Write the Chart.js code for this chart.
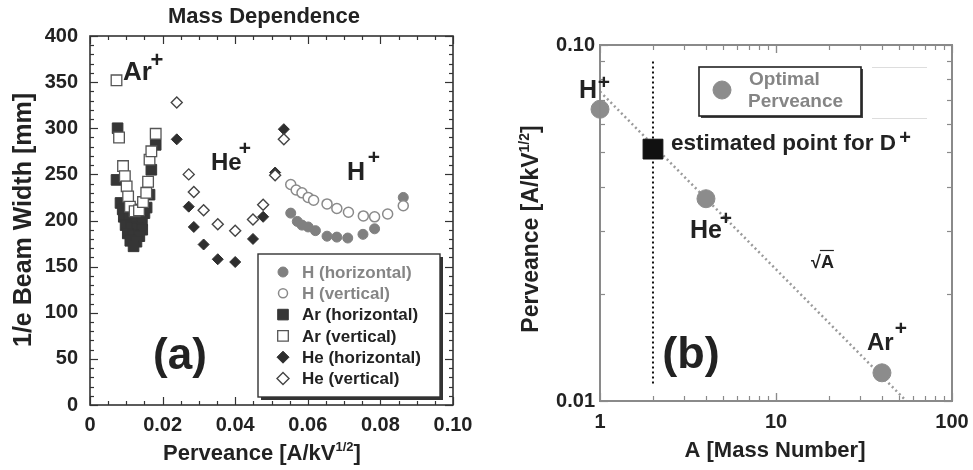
<!DOCTYPE html>
<html>
<head>
<meta charset="utf-8">
<script src="https://cdn.jsdelivr.net/npm/chart.js@4.4.1/dist/chart.umd.min.js"></script>
<style>
  html, body { margin: 0; padding: 0; background: #fff; }
  #wrap { position: relative; width: 973px; height: 470px; }
  #wrap canvas { position: absolute; left: 0; top: 0; }
</style>
</head>
<body>
<div id="wrap">
  <canvas id="beam" width="973" height="470"></canvas>
  <canvas id="perv" width="973" height="470"></canvas>
</div>
<script>
// ---- Panel (a): 1/e beam width [mm] against perveance [A/kV^1/2] ----
const hHorizX = [0.0553, 0.0571, 0.0584, 0.0601, 0.0621, 0.0653, 0.0680, 0.0710, 0.0752, 0.0784, 0.0863];
const hHorizY = [208, 199, 195, 193, 189, 183, 182, 181, 185, 191, 225];

const hVertX = [0.0553, 0.0568, 0.0584, 0.0601, 0.0616, 0.0653, 0.0680, 0.0712, 0.0753, 0.0784, 0.0820, 0.0863];
const hVertY = [239, 233, 230, 225, 222, 218, 213, 209, 205, 204, 207, 216];

const arHorizX = [0.0076, 0.0073, 0.0084, 0.0090, 0.0103, 0.0119, 0.0136, 0.0150, 0.0093, 0.0109, 0.0127, 0.0143,
                  0.0098, 0.0114, 0.0131, 0.0144, 0.0104, 0.0120, 0.0136, 0.0111, 0.0128, 0.0120,
                  0.0156, 0.0164, 0.0169, 0.0181];
const arHorizY = [300, 244, 219, 212, 214, 209, 212, 208, 204, 202, 201, 200,
                  195, 193, 192, 190, 186, 184, 183, 178, 177, 172,
                  214, 228, 255, 282];

const arVertX = [0.0073, 0.0080, 0.0091, 0.0096, 0.0101, 0.0105, 0.0110, 0.0123, 0.0135, 0.0146, 0.0155, 0.0160, 0.0164, 0.0169, 0.0181];
const arVertY = [352, 290, 259, 248, 237, 226, 215, 210, 211, 220, 230, 242, 266, 275, 294];

const heHorizX = [0.0239, 0.0272, 0.0286, 0.0313, 0.0352, 0.0400, 0.0449, 0.0477, 0.0510, 0.0534];
const heHorizY = [288, 215, 193, 174, 158, 155, 180, 204, 252, 299];

const heVertX = [0.0239, 0.0272, 0.0286, 0.0313, 0.0352, 0.0400, 0.0449, 0.0477, 0.0510, 0.0534];
const heVertY = [328, 250, 231, 211, 196, 189, 201, 217, 249, 288];

const beamTicks = [0, 50, 100, 150, 200, 250, 300, 350, 400];
const beamTickLabels = ['0', '50', '100', '150', '200', '250', '300', '350', '400'];
const pervTicks = [0, 0.02, 0.04, 0.06, 0.08, 0.10];
const pervTickLabels = ['0', '0.02', '0.04', '0.06', '0.08', '0.10'];

// ---- Panel (b): optimal perveance against mass number ----
const massNumbers = [1, 4, 40];
const optimalPerveance = [0.066, 0.037, 0.012];
const deuteronMass = [2];
const deuteronPerveance = [0.051];
const sqrtLawMass = [1, 55];
const sqrtLawPerveance = [0.074, 0.01];
const markerLineMass = [2, 2];
const markerLinePerveance = [0.0112, 0.091];

const massTicks = [1, 10, 100];
const massTickLabels = ['1', '10', '100'];
const optTicks = [0.01, 0.1];
const optTickLabels = ['0.01', '0.10'];

const FAMILY = '"Liberation Sans", Arial, Helvetica, sans-serif';
const INK = '#222';
const GREY = '#858585';

function pts(xs, ys) { return xs.map((x, i) => ({ x, y: ys[i] })); }
function fnt(size) { return 'bold ' + size + 'px ' + FAMILY; }

function line(ctx, x1, y1, x2, y2) {
  ctx.beginPath(); ctx.moveTo(x1, y1); ctx.lineTo(x2, y2); ctx.stroke();
}

// Text made of runs; a run may be raised (superscript) by "rise" pixels.
function rich(ctx, runs, x, y, opt = {}) {
  ctx.save();
  ctx.translate(x, y);
  if (opt.rot) ctx.rotate(opt.rot);
  let w = 0;
  runs.forEach(r => { ctx.font = fnt(r.size); r.w = ctx.measureText(r.t).width; w += r.w + (r.dx || 0); });
  let cx = opt.align === 'center' ? -w / 2 : opt.align === 'right' ? -w : 0;
  ctx.textAlign = 'left';
  ctx.textBaseline = 'alphabetic';
  runs.forEach(r => {
    cx += r.dx || 0;
    ctx.font = fnt(r.size);
    ctx.fillStyle = r.color || opt.color || INK;
    ctx.fillText(r.t, cx, -(r.rise || 0));
    cx += r.w;
  });
  ctx.restore();
}

function label(ctx, t, x, y, size, align, baseline, color) {
  ctx.save();
  ctx.font = fnt(size);
  ctx.fillStyle = color || INK;
  ctx.textAlign = align || 'left';
  ctx.textBaseline = baseline || 'alphabetic';
  ctx.fillText(t, x, y);
  ctx.restore();
}

// Ion label such as "Ar" with a bold "+" placed at a given centre.
function ion(ctx, name, x, baseline, size, plusX, plusY, plusSize) {
  label(ctx, name, x, baseline, size);
  label(ctx, '+', plusX, plusY + 0.33 * plusSize, plusSize, 'center');
}

function marker(ctx, style, x, y, r, fill, stroke, lw) {
  ctx.save();
  ctx.beginPath();
  if (style === 'circle') ctx.arc(x, y, r, 0, Math.PI * 2);
  else if (style === 'rect') { const s = r * Math.SQRT1_2; ctx.rect(x - s, y - s, 2 * s, 2 * s); }
  else { ctx.moveTo(x - r, y); ctx.lineTo(x, y - r); ctx.lineTo(x + r, y); ctx.lineTo(x, y + r); ctx.closePath(); }
  ctx.fillStyle = fill; ctx.fill();
  ctx.lineWidth = lw; ctx.strokeStyle = stroke; ctx.stroke();
  ctx.restore();
}

// Frame with inward ticks on all four sides.
function frame(ctx, area, xs, ys, xTicks, yTicks, color, lw) {
  ctx.save();
  ctx.strokeStyle = color;
  ctx.lineWidth = lw;
  ctx.strokeRect(area.left, area.top, area.right - area.left, area.bottom - area.top);
  ctx.lineWidth = 1.2;
  xTicks.forEach(([v, len]) => {
    const p = Math.round(xs.getPixelForValue(v)) + 0.5;
    line(ctx, p, area.bottom, p, area.bottom - len);
    line(ctx, p, area.top, p, area.top + len);
  });
  yTicks.forEach(([v, len]) => {
    const p = Math.round(ys.getPixelForValue(v)) + 0.5;
    line(ctx, area.left, p, area.left + len, p);
    line(ctx, area.right, p, area.right - len, p);
  });
  ctx.restore();
}

// ---------------- Panel (a) ----------------
const beamDecor = {
  id: 'beamDecor',
  afterDatasetsDraw(chart) {
    const { ctx, chartArea: a, scales: { x, y } } = chart;
    const xt = [], yt = [];
    for (let i = 0; i <= 20; i++) xt.push([i * 0.005, i % 4 === 0 ? 8 : 4]);
    for (let i = 0; i <= 40; i++) yt.push([i * 10, i % 5 === 0 ? 8 : 4]);
    frame(ctx, a, x, y, xt, yt, '#333', 1.6);

    beamTicks.forEach((v, i) => label(ctx, beamTickLabels[i], a.left - 12, y.getPixelForValue(v), 20, 'right', 'middle'));
    pervTicks.forEach((v, i) => label(ctx, pervTickLabels[i], x.getPixelForValue(v), 431, 20, 'center'));

    label(ctx, 'Mass Dependence', 264, 23, 22, 'center');
    rich(ctx, [{ t: 'Perveance [A/kV', size: 22 }, { t: '1/2', size: 13, rise: 9 }, { t: ']', size: 22 }], 262, 460, { align: 'center' });
    rich(ctx, [{ t: '1/e Beam Width [mm]', size: 25 }], 31, 220, { align: 'center', rot: -Math.PI / 2 });

    ion(ctx, 'Ar', 123, 80, 26, 157, 60, 22);
    ion(ctx, 'He', 211, 170, 24, 245, 148, 21);
    ion(ctx, 'H', 347, 180, 25, 374, 157, 21);
    label(ctx, '(a)', 180, 369, 44, 'center');

    // legend box with a drop shadow
    const L = 258, T = 254, R = 440, B = 397;
    ctx.save();
    ctx.fillStyle = '#333';
    ctx.fillRect(L + 3, T + 3, R - L, B - T);
    ctx.fillStyle = '#fff';
    ctx.fillRect(L, T, R - L, B - T);
    ctx.strokeStyle = '#333'; ctx.lineWidth = 1.4;
    ctx.strokeRect(L, T, R - L, B - T);
    ctx.restore();
    chart.data.datasets.forEach((ds, i) => {
      const cy = 272 + i * 21.3;
      marker(ctx, ds.pointStyle, 283, cy, ds.legendRadius, ds.backgroundColor, ds.borderColor, ds.borderWidth);
      label(ctx, ds.label, 302, cy + 1, 17, 'left', 'middle', ds.textColor);
    });
  }
};

new Chart(document.getElementById('beam'), {
  type: 'scatter',
  data: {
    datasets: [
      { label: 'H (horizontal)', data: pts(hHorizX, hHorizY), pointStyle: 'circle', pointRadius: 5,
        backgroundColor: '#808080', borderColor: '#808080', borderWidth: 1, order: 2, legendRadius: 5, textColor: GREY },
      { label: 'H (vertical)', data: pts(hVertX, hVertY), pointStyle: 'circle', pointRadius: 5,
        backgroundColor: '#fff', borderColor: '#8a8a8a', borderWidth: 1.5, order: 1, legendRadius: 4.5, textColor: GREY },
      { label: 'Ar (horizontal)', data: pts(arHorizX, arHorizY), pointStyle: 'rect', pointRadius: 7.5,
        backgroundColor: '#363636', borderColor: '#363636', borderWidth: 1, order: 4, legendRadius: 7.5, textColor: INK },
      { label: 'Ar (vertical)', data: pts(arVertX, arVertY), pointStyle: 'rect', pointRadius: 7.5,
        backgroundColor: '#fff', borderColor: '#555', borderWidth: 1.3, order: 3, legendRadius: 7.5, textColor: INK },
      { label: 'He (horizontal)', data: pts(heHorizX, heHorizY), pointStyle: 'rectRot', pointRadius: 5.5,
        backgroundColor: '#2e2e2e', borderColor: '#2e2e2e', borderWidth: 1, order: 6, legendRadius: 6, textColor: INK },
      { label: 'He (vertical)', data: pts(heVertX, heVertY), pointStyle: 'rectRot', pointRadius: 5.5,
        backgroundColor: '#fff', borderColor: '#444', borderWidth: 1.4, order: 5, legendRadius: 6, textColor: INK }
    ]
  },
  options: {
    responsive: false, animation: false, devicePixelRatio: 1,
    layout: { padding: { left: 90, right: 520, top: 36, bottom: 65 } },
    scales: {
      x: { type: 'linear', min: 0, max: 0.1, display: false },
      y: { type: 'linear', min: 0, max: 400, display: false }
    },
    plugins: { legend: { display: false }, tooltip: { enabled: false } }
  },
  plugins: [beamDecor]
});

// ---------------- Panel (b) ----------------
const pervDecor = {
  id: 'pervDecor',
  beforeDatasetsDraw(chart) {
    const { ctx } = chart;
    // legend frame for the optimal perveance marker
    const L = 699, T = 67, R = 861, B = 116;
    ctx.save();
    ctx.strokeStyle = '#ddd'; ctx.lineWidth = 1;
    line(ctx, 872, 67.5, 927, 67.5);
    line(ctx, 872, 118.5, 927, 118.5);
    ctx.fillStyle = '#444';
    ctx.fillRect(L + 2, T + 2, R - L, B - T);
    ctx.fillStyle = '#fff';
    ctx.fillRect(L, T, R - L, B - T);
    ctx.strokeStyle = '#222'; ctx.lineWidth = 1.6;
    ctx.strokeRect(L, T, R - L, B - T);
    ctx.restore();
    marker(ctx, 'circle', 722, 90, 9, '#8c8c8c', '#8c8c8c', 1);
    label(ctx, 'Optimal', 749, 85, 19, 'left', 'alphabetic', GREY);
    label(ctx, 'Perveance', 748, 107, 19, 'left', 'alphabetic', GREY);
  },
  afterDatasetsDraw(chart) {
    const { ctx, chartArea: a, scales: { x, y } } = chart;
    const xt = [], yt = [];
    [1, 10].forEach(d => { for (let k = 1; k <= 10; k++) xt.push([d * k, (k === 1 || k === 10) ? 8 : 5]); });
    [0.01].forEach(d => { for (let k = 1; k <= 10; k++) yt.push([d * k, (k === 1 || k === 10) ? 8 : 5]); });
    frame(ctx, a, x, y, xt, yt, '#8a8a8a', 2);

    optTicks.forEach((v, i) => label(ctx, optTickLabels[i], a.left - 5, y.getPixelForValue(v), 20, 'right', 'middle'));
    massTicks.forEach((v, i) => label(ctx, massTickLabels[i], x.getPixelForValue(v), 428, 20, 'center'));

    rich(ctx, [{ t: 'A [Mass Number]', size: 22 }], 775, 457, { align: 'center' });
    rich(ctx, [{ t: 'Perveance [A/kV', size: 23 }, { t: '1/2', size: 14, rise: 9 }, { t: ']', size: 23 }], 538, 229,
      { align: 'center', rot: -Math.PI / 2 });

    ion(ctx, 'H', 579, 98, 25, 604, 82, 21);
    label(ctx, 'estimated point for D', 671, 150, 22.5);
    label(ctx, '+', 905, 137 + 0.33 * 20, 20, 'center');
    ion(ctx, 'He', 690, 238, 25, 726, 218, 21);
    ion(ctx, 'Ar', 867, 350, 24, 901, 328, 21);
    label(ctx, '(b)', 691, 368, 45, 'center');

    // square-root law tag
    ctx.save();
    ctx.font = fnt(18);
    ctx.fillStyle = INK;
    ctx.textBaseline = 'alphabetic';
    ctx.fillText('\u221A', 811, 268);
    const rw = ctx.measureText('\u221A').width;
    ctx.fillText('A', 811 + rw, 268);
    const aw = ctx.measureText('A').width;
    ctx.strokeStyle = INK; ctx.lineWidth = 1.2;
    line(ctx, 811 + rw - 1, 250.5, 811 + rw + aw, 250.5);
    ctx.restore();
  }
};

new Chart(document.getElementById('perv'), {
  type: 'scatter',
  data: {
    datasets: [
      { label: 'Optimal Perveance', data: pts(massNumbers, optimalPerveance), pointStyle: 'circle', pointRadius: 9,
        backgroundColor: '#8c8c8c', borderColor: '#8c8c8c', borderWidth: 1, order: 1, clip: false },
      { label: 'estimated point for D+', data: pts(deuteronMass, deuteronPerveance), pointStyle: 'rect', pointRadius: 14,
        backgroundColor: '#111', borderColor: '#111', borderWidth: 1, order: 1, clip: false },
      { type: 'line', label: 'sqrt(A)', data: pts(sqrtLawMass, sqrtLawPerveance), borderColor: '#9a9a9a',
        borderWidth: 2.5, borderDash: [2, 3], pointRadius: 0, showLine: true, fill: false, order: 3 },
      { type: 'line', label: 'A = 2', data: pts(markerLineMass, markerLinePerveance), borderColor: '#111',
        borderWidth: 2, borderDash: [2, 3], pointRadius: 0, showLine: true, fill: false, order: 3 }
    ]
  },
  options: {
    responsive: false, animation: false, devicePixelRatio: 1,
    layout: { padding: { left: 600, right: 21, top: 45, bottom: 69 } },
    scales: {
      x: { type: 'logarithmic', min: 1, max: 100, display: false },
      y: { type: 'logarithmic', min: 0.01, max: 0.1, display: false }
    },
    plugins: { legend: { display: false }, tooltip: { enabled: false } }
  },
  plugins: [pervDecor]
});
</script>
</body>
</html>
